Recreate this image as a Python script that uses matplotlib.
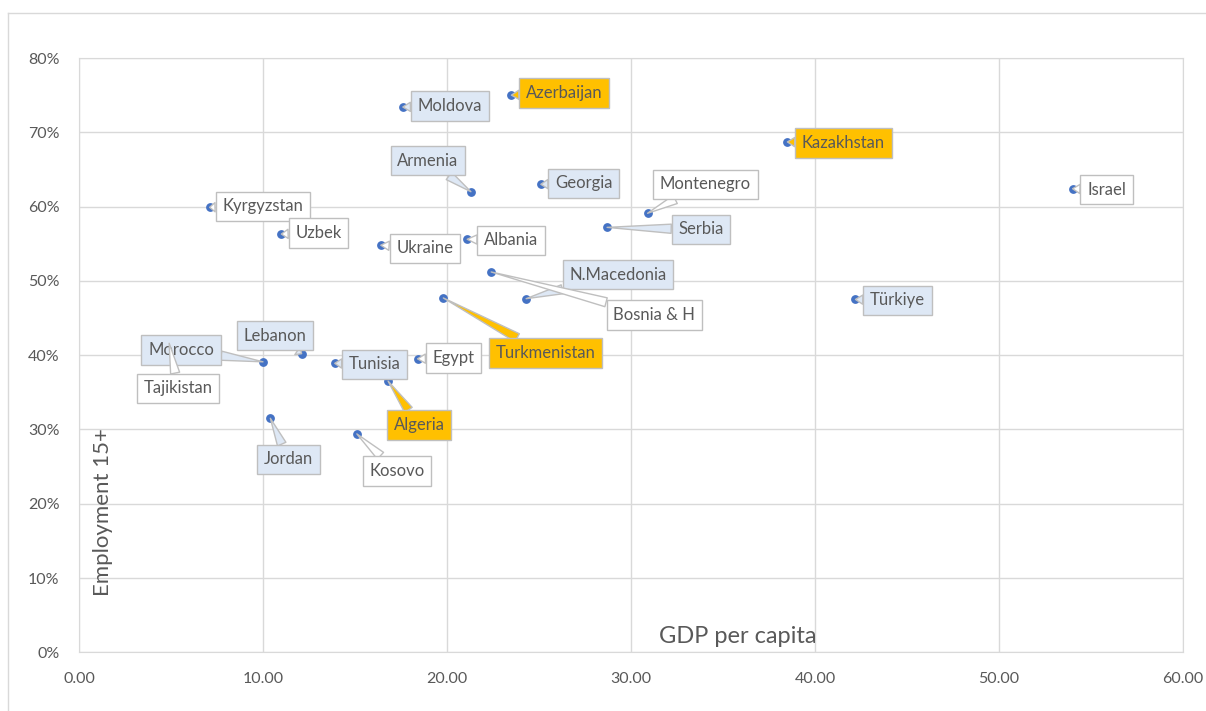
import matplotlib.pyplot as plt
from matplotlib.lines import Line2D
from matplotlib.ticker import FuncFormatter

plt.rcParams['font.family'] = ['Lato', 'DejaVu Sans']

# data: GDP per capita (thousands) vs employment rate 15+ (%)
countries = ["Kyrgyzstan", "Uzbek", "Moldova", "Azerbaijan", "Armenia", "Georgia",
             "Ukraine", "Albania", "Montenegro", "Serbia", "Kazakhstan", "Israel",
             "Türkiye", "N.Macedonia", "Bosnia & H", "Turkmenistan", "Egypt", "Tunisia",
             "Lebanon", "Morocco", "Tajikistan", "Jordan", "Algeria", "Kosovo"]
gdp = [7.1, 11.0, 17.6, 23.5, 21.3, 25.1,
       16.4, 21.1, 30.9, 28.7, 38.5, 54.0,
       42.2, 24.3, 22.4, 19.8, 18.4, 13.9,
       12.1, 10.0, 4.9, 10.4, 16.8, 15.1]
employment = [59.9, 56.3, 73.4, 75.0, 62.0, 63.0,
              54.8, 55.6, 59.1, 57.2, 68.7, 62.4,
              47.5, 47.6, 51.2, 47.7, 39.5, 38.9,
              40.2, 39.1, 41.6, 31.5, 36.5, 29.4]
groups = ["w", "w", "b", "o", "b", "b",
          "w", "w", "w", "b", "o", "w",
          "b", "b", "w", "o", "w", "b",
          "b", "b", "w", "b", "o", "w"]

# label box offsets from the point, in pixels (layout only)
offsets = {
    "Kyrgyzstan": (53, 1), "Uzbek": (37, 1), "Moldova": (47, 1), "Azerbaijan": (53, 2),
    "Armenia": (-43, 31), "Georgia": (43, 1), "Ukraine": (44, -3), "Albania": (44, -1),
    "Montenegro": (58, 29), "Serbia": (94, -2), "Kazakhstan": (56, -1), "Israel": (34, -1),
    "Türkiye": (42, -1), "N.Macedonia": (92, 24), "Bosnia & H": (163, -43),
    "Turkmenistan": (102, -55), "Egypt": (36, 1), "Tunisia": (40, -1), "Lebanon": (-27, 18),
    "Morocco": (-82, 12), "Tajikistan": (9, -45), "Jordan": (18, -41), "Algeria": (31, -44),
    "Kosovo": (40, -37),
}
fills = {"w": "white", "b": "#DEE8F5", "o": "#FFC000"}
txt_col = "#595959"
edge_col = "#BFBFBF"
grid_col = "#D9D9D9"

fig = plt.figure(figsize=(12.06, 7.11), dpi=100)
ax = fig.add_axes([79 / 1206, (711 - 652.3) / 711, 1104 / 1206, 594.3 / 711])

ax.scatter(gdp, employment, s=28, color="#4472C4", zorder=3)

for name, x, y, g in zip(countries, gdp, employment, groups):
    dx, dy = offsets[name]
    ax.annotate(name, xy=(x, y), xytext=(dx, dy), textcoords="offset pixels",
                ha="center", va="center", fontsize=12, color=txt_col, zorder=5,
                bbox=dict(boxstyle="square,pad=0.4", fc=fills[g], ec=edge_col, lw=1),
                arrowprops=dict(arrowstyle="wedge,tail_width=0.55,shrink_factor=0.5",
                                fc=fills[g], ec=edge_col, lw=1, shrinkA=0, shrinkB=0))

ax.set_xlim(0, 60)
ax.set_ylim(0, 80)
ax.set_xticks(range(0, 61, 10))
ax.set_yticks(range(0, 81, 10))
ax.xaxis.set_major_formatter(FuncFormatter(lambda v, p: f"{v:.2f}"))
ax.yaxis.set_major_formatter(FuncFormatter(lambda v, p: f"{v:.0f}%"))
ax.tick_params(length=0, labelsize=11.5, colors=txt_col)
ax.tick_params(axis="x", pad=14)
ax.tick_params(axis="y", pad=14)
ax.grid(True, color=grid_col, lw=1)
ax.set_axisbelow(True)
for s in ax.spines.values():
    s.set_color(grid_col)

ax.text(0.597, 0.027, "GDP per capita", transform=ax.transAxes, ha="center", va="center",
        fontsize=17, color=txt_col)
ax.text(0.0217, 0.236, "Employment 15+", transform=ax.transAxes, ha="center", va="center",
        rotation=90, fontsize=16, color=txt_col)

# outer chart border
fig.add_artist(Line2D([8 / 1206, 1], [1 - 12.5 / 711, 1 - 12.5 / 711], color=grid_col, lw=1))
fig.add_artist(Line2D([8 / 1206, 8 / 1206], [0, 1 - 12.5 / 711], color=grid_col, lw=1))

fig.savefig("out.png", dpi=100)
